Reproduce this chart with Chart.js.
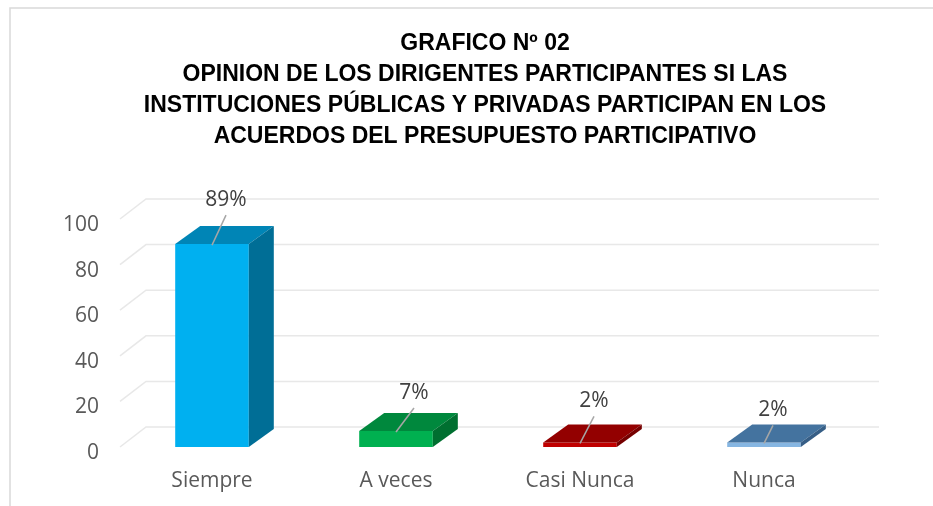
<!DOCTYPE html>
<html>
<head>
<meta charset="utf-8">
<script src="https://cdn.jsdelivr.net/npm/chart.js@4.4.0/dist/chart.umd.min.js"></script>
<style>
  html, body { margin: 0; padding: 0; background: #fff; }
  #wrap { width: 933px; height: 506px; position: relative; }
</style>
</head>
<body>
<div id="wrap"><canvas id="chart" width="933" height="506"></canvas></div>
<script>
// chart data
const categories = ['Siempre', 'A veces', 'Casi Nunca', 'Nunca'];
const values = [89, 7, 2, 2];
const valueLabels = ['89%', '7%', '2%', '2%'];
const yTicks = [0, 20, 40, 60, 80, 100];
const titleLines = [
  'GRAFICO Nº 02',
  'OPINION DE LOS DIRIGENTES PARTICIPANTES SI LAS',
  'INSTITUCIONES PÚBLICAS Y PRIVADAS PARTICIPAN EN LOS',
  'ACUERDOS DEL PRESUPUESTO PARTICIPATIVO'
];

// colors: front, top, side
const frontColors = ['#00B0F0', '#00B050', '#C00000', '#86B6E2'];
const topColors = ['#0085B6', '#00883D', '#930000', '#44739F'];
const sideColors = ['#006E96', '#006F30', '#760000', '#365E86'];

const axisFont = "'Open Sans', sans-serif";

// background, frame and title (title drawn by hand so it can sit off-centre like the original)
const frame = {
  id: 'frame',
  beforeDraw(chart) {
    const ctx = chart.ctx;
    ctx.save();
    ctx.fillStyle = '#fff';
    ctx.fillRect(0, 0, chart.width, chart.height);
    ctx.strokeStyle = '#D9D9D9';
    ctx.lineWidth = 1.5;
    ctx.beginPath();
    ctx.moveTo(10, chart.height);
    ctx.lineTo(10, 8);
    ctx.lineTo(chart.width, 8);
    ctx.stroke();
    ctx.fillStyle = '#000';
    ctx.font = "bold 23px 'Liberation Sans', Arial, sans-serif";
    ctx.textAlign = 'center';
    ctx.textBaseline = 'alphabetic';
    titleLines.forEach((t, i) => ctx.fillText(t, 485, 50 + i * 31.1));
    ctx.restore();
  }
};

// 3d look: back grid plane + bar tops and sides
const threeD = {
  id: 'threeD',
  beforeDatasetsDraw(chart) {
    const ctx = chart.ctx;
    const y = chart.scales.y;
    const area = chart.chartArea;
    const gx = 26, gy = -20;
    ctx.save();
    ctx.strokeStyle = '#E8E8E8';
    ctx.lineWidth = 1.5;
    yTicks.forEach(v => {
      const py = y.getPixelForValue(v);
      ctx.beginPath();
      ctx.moveTo(area.left, py);
      ctx.lineTo(area.left + gx, py + gy);
      ctx.lineTo(area.right + gx - 3, py + gy);
      ctx.stroke();
    });
    ctx.restore();
  },
  afterDatasetsDraw(chart) {
    const ctx = chart.ctx;
    const meta = chart.getDatasetMeta(0);
    const dx = 25, dy = -18;
    ctx.save();
    meta.data.forEach((bar, i) => {
      const p = bar.getProps(['x', 'y', 'base', 'width'], true);
      const l = p.x - p.width / 2, r = p.x + p.width / 2;
      ctx.fillStyle = topColors[i];
      ctx.beginPath();
      ctx.moveTo(l, p.y);
      ctx.lineTo(l + dx, p.y + dy);
      ctx.lineTo(r + dx, p.y + dy);
      ctx.lineTo(r, p.y);
      ctx.closePath();
      ctx.fill();
      ctx.fillStyle = sideColors[i];
      ctx.beginPath();
      ctx.moveTo(r, p.y);
      ctx.lineTo(r + dx, p.y + dy);
      ctx.lineTo(r + dx, p.base + dy);
      ctx.lineTo(r, p.base);
      ctx.closePath();
      ctx.fill();
    });
    ctx.restore();
  }
};

// value labels with leader lines
const labelOffsets = [[14, -44], [18, -38], [14, -41], [9, -32]];
const dataLabels = {
  id: 'dataLabels',
  afterDatasetsDraw(chart) {
    const ctx = chart.ctx;
    const meta = chart.getDatasetMeta(0);
    ctx.save();
    ctx.font = "21px " + axisFont;
    ctx.textAlign = 'center';
    ctx.textBaseline = 'middle';
    meta.data.forEach((bar, i) => {
      const p = bar.getProps(['x', 'y'], true);
      const tx = p.x + labelOffsets[i][0];
      const ty = p.y + labelOffsets[i][1];
      ctx.strokeStyle = '#A6A6A6';
      ctx.lineWidth = 1.5;
      ctx.beginPath();
      ctx.moveTo(p.x, p.y + 1);
      ctx.lineTo(tx, ty + 15);
      ctx.stroke();
      ctx.fillStyle = '#404040';
      ctx.fillText(valueLabels[i], tx, ty);
    });
    ctx.restore();
  }
};

new Chart(document.getElementById('chart'), {
  type: 'bar',
  data: {
    labels: categories,
    datasets: [{
      data: values,
      backgroundColor: frontColors,
      borderWidth: 0,
      categoryPercentage: 1,
      barPercentage: 0.4
    }]
  },
  options: {
    responsive: false,
    animation: false,
    layout: { padding: { left: 0, right: 77, top: 219, bottom: 0 } },
    plugins: {
      legend: { display: false },
      tooltip: { enabled: false },
      title: { display: false }
    },
    scales: {
      x: {
        grid: { display: false, drawTicks: false },
        border: { display: false },
        ticks: { color: '#595959', font: { family: axisFont, size: 21 }, padding: 21 },
        afterFit(scale) { scale.height = 59; }
      },
      y: {
        min: 0,
        max: 100,
        afterBuildTicks(scale) { scale.ticks = yTicks.map(v => ({ value: v })); },
        grid: { display: false, drawTicks: false },
        border: { display: false },
        ticks: { color: '#595959', font: { family: axisFont, size: 21 }, padding: 21, labelOffset: 6 },
        afterFit(scale) { scale.width = 120; }
      }
    }
  },
  plugins: [frame, threeD, dataLabels]
});
</script>
</body>
</html>
